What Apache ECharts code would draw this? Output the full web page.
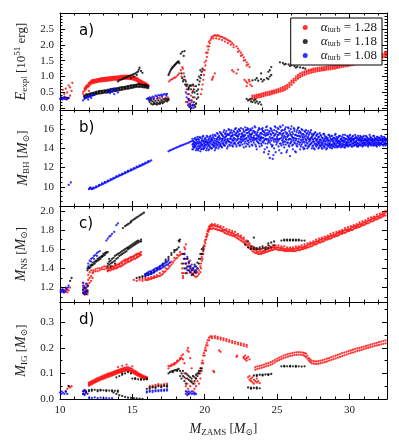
<!DOCTYPE html>
<html>
<head>
<meta charset="utf-8">
<script src="https://cdn.jsdelivr.net/npm/echarts@6.0.0/dist/echarts.min.js"></script>
<style>
html, body { margin: 0; padding: 0; background: #fff; }
#chart { width: 399px; height: 444px; }
</style>
</head>
<body>
<div id="chart"></div>
<script>
// rows are [M_ZAMS, value, value, ...]
var alphaTurb = ['1.28', '1.18', '1.08'];
var xMajor = [10, 15, 20, 25, 30];
var xMinor = [11, 12, 13, 14, 16, 17, 18, 19, 21, 22, 23, 24, 26, 27, 28, 29, 31, 32];
var yMajorA = [0, 0.5, 1, 1.5, 2, 2.5];
var yMinorA = [0.1, 0.2, 0.3, 0.4, 0.6, 0.7, 0.8, 0.9, 1.1, 1.2, 1.3, 1.4, 1.6, 1.7, 1.8, 1.9, 2.1, 2.2, 2.3, 2.4, 2.6, 2.7, 2.8, 2.9];
var yMajorB = [10, 12, 14, 16];
var yMinorB = [8.5, 9, 9.5, 10.5, 11, 11.5, 12.5, 13, 13.5, 14.5, 15, 15.5, 16.5, 17, 17.5];
var yMajorC = [1.2, 1.4, 1.6, 1.8, 2.0];
var yMinorC = [1.1, 1.3, 1.5, 1.7, 1.9];
var yMajorD = [0, 0.1, 0.2, 0.3];
var yMinorD = [0.05, 0.15, 0.25, 0.35];

// a) E_expl
var aRed = [
  [10.1,0.30],[10.2,0.32,0.58],[10.3,0.31,0.45],[10.4,0.30,0.62],[10.5,0.34,0.5],[10.6,0.32,0.72],[10.7,0.66,0.4],[10.8,0.55],[10.85,0.8],
  [11.6,0.45,0.52],[11.65,0.38],[11.7,0.55,0.6,0.64],[11.8,0.6,0.65,0.7,0.45],[11.9,0.66,0.7,0.75],[12.0,0.7,0.75,0.8,0.55],[12.1,0.75,0.8,0.85],
  [12.2,0.78,0.83,0.88],[12.3,0.8,0.85,0.9],[12.4,0.81,0.86,0.9],[12.5,0.82,0.86,0.91],[12.6,0.83,0.88,0.92],[12.7,0.84,0.89,0.93],
  [12.8,0.85,0.9,0.94],[12.9,0.85,0.9,0.95],[13.0,0.86,0.91,0.95],[13.1,0.86,0.91,0.96],[13.2,0.87,0.92,0.97],[13.3,0.87,0.92,0.97],
  [13.4,0.88,0.93,0.98],[13.5,0.88,0.93,0.98],[13.6,0.89,0.94,0.99],[13.7,0.9,0.95,0.99],[13.8,0.9,0.95,1.0],[13.9,0.9,0.95,1.0],
  [14.0,0.91,0.96,1.01],[14.1,0.91,0.96,1.01],[14.2,0.92,0.97,1.02],[14.3,0.92,0.97,1.02],[14.4,0.93,0.98,1.02],[14.5,0.93,0.98,1.03],
  [14.6,0.93,0.98,1.03],[14.7,0.93,0.98,1.03],[14.8,0.92,0.97,1.02],[14.9,0.92,0.97,1.02],[15.0,0.91,0.96,1.01],[15.1,0.9,0.95,1.0],
  [15.2,0.88,0.93,0.98],[15.3,0.86,0.91,0.96],[15.4,0.83,0.88,0.93],[15.5,0.8,0.85,0.9],[15.6,0.77,0.82,0.87],[15.7,0.75,0.8,0.85],
  [15.8,0.73,0.78,0.82],[15.9,0.72,0.76,0.8],[16.0,0.7,0.74,0.77],[16.1,0.68,0.71,0.74],
  [16.3,0.3],[16.5,0.28],[16.7,0.3],[16.9,0.32],[17.1,0.3],[17.3,0.33],[17.45,0.35],
  [17.55,0.85],[17.65,0.9],[17.75,0.92],[17.85,0.95],[17.95,0.97],[18.05,1.0],[18.15,1.05],[18.25,1.1],[18.35,1.2],[18.4,1.0],[18.45,1.3],[18.5,1.25],[18.55,1.1],
  [18.65,0.9],[18.7,0.75,0.2],[18.75,0.6],[18.8,0.45],[18.85,0.3],[18.9,0.15,0.6],[18.95,0.05],[19.0,0.25],[19.05,0.4],[19.1,0.2],[19.15,0.1],[19.2,0.55],[19.25,0.7],[19.3,0.35],[19.4,0.15],
  [19.75,0.45],[19.8,0.6],[19.85,0.75],[19.9,0.9,1.2],[19.95,1.05],[20.0,1.2,1.45],[20.05,1.35],[20.1,1.5,1.75],[20.15,1.62],[20.2,1.75,1.95],[20.25,1.85],[20.3,1.95,2.1],[20.35,2.05],[20.4,2.15],[20.45,2.2],
  [20.5,0.9],[20.55,0.95],[20.6,1.0],[20.7,1.1],
  [20.5,2.25],[20.6,2.28,2.2],[20.7,2.3],[20.8,2.28,2.2],[20.9,2.3],[21.0,2.27,2.18],[21.1,2.25],[21.2,2.25,2.15],[21.3,2.22],[21.4,2.2,2.1],[21.5,2.18],[21.6,2.15,2.05],[21.7,2.12],[21.8,2.1,2.0],[21.9,2.05],[22.0,2.0,1.92],
  [22.2,1.95],[22.3,1.88,1.78],[22.4,1.82],[22.5,1.75,1.65],[22.6,1.68],[22.7,1.6,1.5],[22.8,1.52],[22.9,1.45,1.35],[23.0,1.38],[23.1,1.3],
  [21.9,1.2],[22.0,1.15],[22.2,1.1],[22.3,1.22],
  [22.75,0.9],[22.85,0.85],[22.9,0.7],[22.95,0.8],[23.05,0.9],[23.1,0.85],[23.15,0.75],[23.25,0.7],
  [23.3,0.3,0.35,0.4],[23.45,0.32,0.37,0.41],[23.6,0.33,0.38,0.43],[23.75,0.35,0.4,0.44],[23.9,0.36,0.41,0.46],[24.05,0.38,0.43,0.48],
  [24.2,0.4,0.45,0.5],[24.35,0.42,0.46,0.51],[24.5,0.43,0.48,0.53],[24.65,0.45,0.5,0.55],[24.8,0.47,0.52,0.57],[24.95,0.49,0.54,0.59],
  [25.1,0.51,0.56,0.61],[25.25,0.53,0.58,0.64],[25.4,0.55,0.61,0.67],[25.55,0.58,0.64,0.7],[25.7,0.62,0.68,0.74],[25.85,0.67,0.74,0.8],
  [26.0,0.74,0.81,0.87],[26.15,0.81,0.87,0.93],[26.3,0.88,0.94,1.0],[26.45,0.93,0.99,1.05],[26.6,0.98,1.04,1.1],[26.75,1.02,1.08,1.13],
  [26.9,1.05,1.11,1.16],[27.05,1.08,1.14,1.19],[27.2,1.1,1.16,1.21],[27.35,1.12,1.18,1.23],[27.5,1.14,1.2,1.25],[27.65,1.15,1.21,1.26],
  [27.8,1.17,1.22,1.27],[27.95,1.18,1.23,1.28],[28.1,1.19,1.24,1.29],[28.25,1.2,1.25,1.3],[28.4,1.21,1.26,1.31],[28.55,1.22,1.27,1.32],
  [28.7,1.23,1.28,1.33],[28.85,1.24,1.29,1.34],[29.0,1.25,1.3,1.35],[29.15,1.27,1.32,1.37],[29.3,1.28,1.33,1.38],[29.45,1.3,1.35,1.4],
  [29.6,1.31,1.36,1.41],[29.75,1.32,1.37,1.42],[29.9,1.33,1.38,1.44],[30.05,1.35,1.4,1.45],[30.2,1.36,1.41,1.47],[30.35,1.38,1.43,1.48],
  [30.5,1.39,1.44,1.5],[30.65,1.41,1.46,1.51],[30.8,1.42,1.47,1.53],[30.95,1.44,1.49,1.54],[31.1,1.45,1.5,1.56],[31.25,1.47,1.52,1.57],
  [31.4,1.48,1.53,1.59],[31.55,1.5,1.55,1.6],[31.7,1.51,1.56,1.62],[31.85,1.53,1.58,1.64],[32.0,1.55,1.6,1.66],[32.15,1.57,1.63,1.68],
  [32.3,1.6,1.65,1.71],[32.45,1.63,1.69,1.75],[32.55,1.66,1.72,1.78]
];
var aBlack = [
  [10.1,0.33],[10.3,0.36],[10.5,0.32],
  [11.7,0.33,0.37,0.4],[11.8,0.35,0.42],[11.9,0.37,0.4,0.44],[12.0,0.38,0.45],[12.1,0.4,0.43,0.47],[12.2,0.41,0.48],[12.3,0.42,0.46,0.49],
  [12.4,0.44,0.5],[12.5,0.45,0.48,0.52],[12.6,0.46,0.53],[12.7,0.47,0.5,0.54],[12.8,0.47,0.55],[12.9,0.48,0.52,0.55],[13.0,0.49,0.56],
  [13.1,0.5,0.53,0.57],[13.2,0.5,0.57],[13.3,0.51,0.55,0.58],[13.4,0.52,0.59],[13.5,0.52,0.56,0.6],[13.6,0.53,0.61],[13.7,0.54,0.58,0.62],
  [13.8,0.55,0.62],[13.9,0.56,0.6,0.63],[14.0,0.57,0.64],[14.1,0.57,0.61,0.65],[14.2,0.58,0.66],[14.3,0.59,0.63,0.67],[14.4,0.6,0.67],
  [14.5,0.61,0.65,0.68],[14.6,0.62,0.69],[14.7,0.62,0.66,0.7],[14.8,0.63,0.71],[14.9,0.64,0.68,0.72],[15.0,0.65,0.72],[15.1,0.66,0.7,0.73],
  [15.2,0.67,0.74],[15.3,0.68,0.72,0.75],[15.4,0.68,0.76],[15.5,0.68,0.72,0.76],[15.6,0.68,0.75],[15.7,0.67,0.71,0.74],[15.8,0.66,0.74],
  [15.9,0.66,0.7,0.73],[16.0,0.65,0.72],[16.1,0.64,0.7],
  [14.0,0.85],[14.1,0.88],[14.2,0.9],[14.3,0.92],[14.4,0.94],[14.5,0.96],[14.6,0.98],[14.7,1.0],[14.8,1.02],[14.9,0.95,1.04],[15.0,1.06],
  [15.1,1.0,1.08],[15.2,1.1],[15.3,1.05,1.13],[15.4,1.16],[15.45,1.22],[15.5,1.28],[15.6,1.18],[15.7,1.12],
  [16.1,0.3],[16.2,0.2,0.28],[16.3,0.15,0.25],[16.4,0.12,0.22],[16.5,0.14,0.18],[16.6,0.14,0.24],[16.7,0.18,0.12],[16.8,0.15,0.25],
  [16.9,0.2,0.14],[17.0,0.18,0.26],[17.1,0.22,0.16],[17.2,0.2,0.28],[17.3,0.24,0.3],[17.4,0.22,0.28],[17.5,0.3,0.26],
  [17.5,1.05],[17.55,1.1],[17.6,1.15],[17.65,1.2],[17.7,1.24],[17.75,1.27],[17.8,1.3],[17.85,1.32],[17.9,1.35],[17.95,1.37],[18.0,1.4],
  [18.05,1.42],[18.1,1.45],[18.15,1.46],[18.2,1.48],[18.25,1.42],
  [18.35,1.72],[18.45,1.78],[18.55,1.65],[18.6,1.8],
  [18.4,1.1],[18.45,0.95],[18.5,0.85],[18.55,0.9],[18.6,1.0],[18.65,0.75],[18.7,0.85],[18.75,0.7],[18.8,0.75],[18.85,0.6],[18.9,0.65,0.25],
  [18.95,0.7],[19.0,0.72,0.1],[19.05,0.6],[19.1,0.72,0.0],[19.15,0.5],[19.2,0.35,0.75],[19.25,0.2,0.6],[19.3,0.1,0.5],[19.35,0.05],
  [19.4,0.15,0.7],[19.45,0.3,0.55],[19.5,0.45,0.9],[19.55,0.6,0.35],[19.6,0.75,1.0],[19.65,0.85],[19.7,0.95,1.2],[19.75,1.05],[19.8,1.15],[19.85,1.25],
  [22.9,0.3],[23.0,0.25],[23.1,0.28],[23.2,0.22,0.3],[23.3,0.2],[23.4,0.25],[23.5,0.18,0.28],[23.6,0.22],[23.7,0.15],[23.8,0.2],[23.9,0.12],
  [23.3,0.88],[23.5,0.9],[23.6,0.95],[23.7,0.87],[23.9,0.92,1.1],[24.0,0.85],[24.1,0.9],[24.3,0.95],[24.4,0.92,1.15],[24.5,1.0,1.2],[24.6,1.05,1.3],
  [25.2,1.45],[25.4,1.43],[25.5,1.38],[25.6,1.4],[25.8,1.38],[25.9,1.33],[26.0,1.36],[26.2,1.33],[26.3,1.28],[26.4,1.31],[26.6,1.29],[26.8,1.27],[26.95,1.25]
];
var aBlue = [
  [10.0,0.3],[10.1,0.35],[10.15,0.28],[10.2,0.32],[10.3,0.3],[10.4,0.34],[10.45,0.28],[10.5,0.31],[10.6,0.33],
  [11.6,0.25],[11.7,0.3],[11.75,0.38],[11.8,0.33],[11.9,0.35],[11.95,0.28],[12.0,0.37],[12.1,0.38],[12.15,0.33],[12.2,0.4],[12.3,0.42],[12.4,0.43],
  [13.3,0.5],[13.4,0.55],[13.45,0.48],[13.5,0.6],[13.6,0.52],[13.7,0.58],[13.75,0.45],[13.8,0.62],[13.9,0.55],[14.0,0.5],
  [16.0,0.3],[16.1,0.32],[16.15,0.25],[16.2,0.35],[16.3,0.33],[16.4,0.37],[16.45,0.3],[16.5,0.35],[16.6,0.4],[16.7,0.38],[16.75,0.33],
  [16.8,0.42],[16.9,0.4],[17.0,0.43],[17.05,0.37],[17.1,0.42],[17.2,0.45],[17.3,0.44],[17.35,0.4],[17.4,0.46],
  [18.7,0.5],[18.75,0.35],[18.8,0.2],[18.85,0.1],[18.9,0.3,0.45],[18.95,0.05],[19.0,0.15],[19.05,0.02],[19.1,0.25],[19.15,0.08],[19.2,0.12],[19.25,0.02]
];

// b) M_BH
var bBlue = [
  [10.6,10.2],[10.75,10.45],
  [12.0,9.75],[12.05,9.85],[12.1,9.95],[12.15,9.8],[12.2,9.75],[12.3,9.8,9.9],[12.4,9.88],[12.5,9.95,10.05],[12.6,10.02],[12.7,10.1,10.2],
  [12.8,10.18],[12.9,10.25,10.35],[13.0,10.32],[13.1,10.4,10.5],[13.2,10.47],[13.3,10.55,10.64],[13.4,10.62],[13.5,10.7,10.8],[13.6,10.77],
  [13.7,10.85,10.94],[13.8,10.92],[13.9,11.0,11.1],[14.0,11.07],[14.1,11.14,11.24],[14.2,11.21],[14.3,11.28,11.38],[14.4,11.35],
  [14.5,11.42,11.52],[14.6,11.5],[14.7,11.57,11.67],[14.8,11.64],[14.9,11.71,11.81],[15.0,11.78],[15.1,11.85,11.95],[15.2,11.92],
  [15.3,12.0,12.1],[15.4,12.07],[15.5,12.14,12.24],[15.6,12.2],[15.7,12.27,12.37],[15.8,12.35],[15.9,12.42,12.52],[16.0,12.5],
  [16.1,12.57,12.67],[16.2,12.65],[16.3,12.75],
  [17.5,13.7],[17.6,13.78],[17.7,13.85],[17.8,13.92],[17.9,13.98],[18.0,14.05],[18.1,14.12],[18.2,14.18],[18.3,14.25],[18.4,14.3],
  [18.5,14.36],[18.6,14.42],[18.7,14.48],[18.8,14.55],[18.9,14.6],[19.0,14.68],[19.1,14.75],
  [19.2,14.2,14.8,13.9,14.5],[19.3,14.6,14.1,15.0,14.3],[19.4,14.4,13.8,14.9,14.6],[19.5,14.7,14.2,15.2,13.9],[19.6,14.3,14.9,14.0,14.6],
  [19.7,14.5,15.1,13.7,14.2],[19.8,14.8,14.4,14.0,15.0],[19.9,14.2,14.7,15.3,13.9],[20.0,14.6,14.3,15.0,14.1],[20.1,14.4,14.9,13.8,14.7],
  [20.2,14.7,14.2,15.2,14.5],[20.3,14.3,15.0,14.6,13.9],[20.4,14.5,14.1,15.3,14.8],[20.5,14.9,14.4,14.0,15.1],[20.6,14.6,15.2,14.2,14.4],
  [20.7,14.3,14.8,15.4,13.8],[20.8,14.7,14.5,15.0,14.1],[20.9,15.1,14.4,14.7,15.5],[21.0,14.6,15.3,14.2,14.9],[21.1,15.0,14.5,15.6,14.3],
  [21.2,14.8,15.4,14.1,15.0],[21.3,15.2,14.6,15.7,14.4],[21.4,14.9,15.5,14.3,15.1],[21.5,15.3,14.7,15.8,14.5],[21.6,15.0,14.2,15.5,14.8],
  [21.7,14.7,15.4,15.9,14.4],[21.8,15.2,14.6,15.0,15.7],[21.9,14.9,15.3,14.3,15.6],[22.0,15.1,14.5,15.8,14.8],[22.1,14.6,15.4,15.0,16.0],
  [22.2,15.3,14.8,14.2,15.6],[22.3,15.0,15.7,14.5,15.2],[22.4,14.7,15.5,15.9,14.3],[22.5,15.2,14.9,16.1,14.6],[22.6,15.6,15.0,14.4,15.3],
  [22.7,14.9,15.8,15.2,14.1],[22.8,15.4,14.7,16.2,15.0],[22.9,15.1,15.6,14.5,15.9],[23.0,14.8,15.3,16.0,14.4],[23.1,15.5,15.0,14.2,15.8],
  [23.2,15.2,15.9,14.7,15.4],[23.3,14.9,15.6,16.1,14.3],[23.4,15.3,14.6,15.8,15.1],[23.5,15.7,15.0,14.4,16.2],[23.6,15.1,15.5,14.8,13.9],
  [23.7,14.6,15.9,15.3,15.0],[23.8,15.4,14.9,16.0,14.2],[23.9,15.0,15.6,14.5,15.2],[24.0,15.8,15.1,14.7,16.1],[24.1,14.8,15.4,13.6,15.7],
  [24.2,15.3,14.5,15.9,15.0],[24.3,15.6,14.9,14.1,16.3],[24.4,15.0,15.5,13.4,14.7],[24.5,14.6,15.8,15.2,13.0],[24.6,15.4,14.8,16.0,14.4],
  [24.7,15.1,15.6,14.3,12.9],[24.8,14.7,15.3,15.9,14.0],[24.9,15.5,14.9,16.2,13.6],[25.0,15.2,14.6,15.7,15.0],[25.1,14.8,15.4,16.0,14.2],
  [25.2,15.6,15.0,14.5,16.3],[25.3,15.1,14.3,15.8,13.5],[25.4,14.9,15.5,16.4,14.6],[25.5,15.3,14.7,15.9,14.1],[25.6,15.0,15.7,14.4,16.2],
  [25.7,14.6,15.2,13.8,15.6],[25.8,15.4,14.9,16.1,14.3],[25.9,15.0,15.6,14.5,13.2],[26.0,14.7,15.3,16.3,14.9],[26.1,15.5,14.4,15.1,13.9],
  [26.2,15.1,15.8,14.6,16.0],[26.3,14.8,15.4,13.6,15.0],[26.4,15.3,14.5,15.9,14.2],[26.5,15.0,15.6,14.7,16.2],[26.6,14.6,15.2,13.9,15.7],
  [26.7,15.4,14.8,16.0,14.4],[26.8,14.9,15.5,14.1,15.1],[26.9,15.2,14.6,15.8,14.0],[27.0,14.8,15.3,14.3,15.9],[27.1,15.1,14.5,15.6,14.0],
  [27.2,14.7,15.4,14.2,15.0],[27.3,15.0,14.4,15.7,14.8],[27.4,14.6,15.2,14.0,15.5],[27.5,14.9,14.3,15.4,14.7],[27.6,14.5,15.1,13.9,15.6],
  [27.7,14.8,14.2,15.3,14.5],[27.8,14.4,15.0,14.7,15.5],[27.9,14.7,14.1,15.2,14.5],[28.0,14.3,14.9,14.6,15.4],[28.1,14.6,14.0,15.1,14.4],
  [28.2,14.9,14.3,15.5,14.7],[28.3,14.5,15.0,14.1,15.3],[28.4,14.8,14.4,15.2,13.9],[28.5,14.6,15.1,14.2,14.9],[28.6,14.3,14.8,15.4,14.5],
  [28.7,14.7,14.1,15.0,14.4],[28.8,14.4,14.9,15.3,14.0],[28.9,14.8,14.5,15.1,14.2],[29.0,14.5,15.0,14.1,15.4],[29.1,14.9,14.3,14.7,15.2],
  [29.2,14.6,15.1,14.2,14.8],[29.3,14.3,14.8,15.3,14.5],[29.4,14.7,14.4,15.0,14.1],[29.5,14.5,15.2,14.8,14.2],[29.6,14.8,14.3,15.1,14.6],
  [29.7,14.4,14.9,15.4,14.1],[29.8,14.7,14.5,15.0,14.3],[29.9,14.9,14.2,15.2,14.6],[30.0,14.6,15.0,14.3,15.3],[30.1,14.8,14.4,15.1,14.7],
  [30.2,14.5,15.2,14.2,14.9],[30.3,14.9,14.6,15.0,14.3],[30.4,14.6,15.1,14.4,15.4],[30.5,14.8,14.3,15.0,14.6],[30.6,14.5,14.9,15.3,14.2],
  [30.7,14.9,14.6,15.1,14.4],[30.8,14.7,15.2,14.3,14.9],[30.9,14.5,14.8,15.0,14.2],[31.0,14.8,14.4,15.3,14.6],[31.1,14.6,15.0,14.3,14.9],
  [31.2,14.9,14.5,15.2,14.7],[31.3,14.5,14.8,15.0,14.2],[31.4,14.8,14.4,15.4,14.6],[31.5,14.6,15.1,14.3,14.9],[31.6,14.9,14.5,15.0,14.7],
  [31.7,14.5,14.8,15.3,14.3],[31.8,14.7,15.0,14.4,14.9],[31.9,14.9,14.6,15.2,14.2],[32.0,14.6,15.0,14.4,14.8],[32.1,14.8,14.5,15.1,14.3],
  [32.2,14.5,14.9,15.3,14.6],[32.3,14.7,14.4,15.0,14.9],[32.4,14.9,14.6,15.2,14.4],[32.5,14.6,14.8,14.3,15.0]
];
// second pass of the BH cloud, in between the rows above
var bBlueMid = [
  [19.15,14.4,13.9,15.0],[19.25,14.7,14.1,14.4],[19.35,14.2,15.1,14.6],[19.45,14.9,14.0,14.5],[19.55,14.5,15.0,13.8],[19.65,14.1,14.7,15.2],
  [19.75,14.6,13.9,14.3],[19.85,14.4,15.2,14.8],[19.95,14.8,14.0,14.5],[20.05,14.3,15.1,14.7],[20.15,14.6,14.0,15.3],[20.25,14.9,14.4,13.8],
  [20.35,14.2,15.2,14.7],[20.45,14.7,14.0,15.0],[20.55,14.4,15.4,14.8],[20.65,15.0,14.2,14.6],[20.75,14.5,15.3,14.0],[20.85,14.9,14.3,15.6],
  [20.95,14.6,15.2,14.0],[21.05,15.1,14.4,15.7],[21.15,14.7,15.5,14.2],[21.25,15.3,14.5,15.0],[21.35,14.8,15.9,14.3],[21.45,15.2,14.6,15.6],
  [21.55,14.9,15.4,14.0],[21.65,15.4,14.7,16.0],[21.75,15.0,15.6,14.3],[21.85,14.6,15.3,15.9],[21.95,15.4,14.8,14.2],[22.05,15.0,15.7,14.5],
  [22.15,15.5,14.4,16.1],[22.25,14.9,15.3,15.8],[22.35,15.4,14.6,16.0],[22.45,15.0,15.8,14.3],[22.55,15.5,14.7,15.2],[22.65,14.8,16.0,15.4],
  [22.75,15.3,14.5,15.7],[22.85,15.0,15.9,14.2],[22.95,15.6,14.8,16.1],[23.05,15.2,15.7,14.6],[23.15,14.9,16.0,15.4],[23.25,15.5,14.4,15.1],
  [23.35,15.1,15.8,14.8],[23.45,15.6,14.9,16.3],[23.55,15.0,15.4,14.2],[23.65,15.7,14.7,15.3],[23.75,15.2,16.1,14.5],[23.85,14.8,15.6,15.1],
  [23.95,15.5,14.3,16.0],[24.05,15.1,15.8,14.6],[24.15,15.6,14.9,13.9],[24.25,15.0,16.2,15.4],[24.35,15.4,14.5,15.9],[24.45,14.8,15.7,13.7],
  [24.55,15.5,15.0,16.1],[24.65,15.1,14.2,15.8],[24.75,15.6,14.9,13.3],[24.85,15.0,15.4,16.3],[24.95,14.7,15.8,14.4],[25.05,15.4,14.9,16.1],
  [25.15,15.0,15.6,13.8],[25.25,15.5,14.5,16.2],[25.35,14.8,15.3,15.9],[25.45,15.6,14.4,15.1],[25.55,15.2,16.0,14.7],[25.65,14.9,15.5,13.6],
  [25.75,15.3,14.6,16.2],[25.85,15.0,15.8,14.2],[25.95,14.6,15.4,16.0],[26.05,15.2,14.3,15.7],[26.15,14.8,16.1,15.0],[26.25,15.4,14.5,13.7],
  [26.35,15.0,15.7,14.3],[26.45,14.7,15.3,16.1],[26.55,15.3,14.4,15.8],[26.65,14.9,15.6,14.2],[26.75,15.2,14.6,15.9],[26.85,14.7,15.4,13.9],
  [26.95,15.0,14.3,15.7],[27.05,14.6,15.5,14.9],[27.15,15.2,14.2,15.8],[27.25,14.9,15.6,14.4],[27.35,14.5,15.1,15.9],[27.45,15.0,14.2,15.3],
  [27.55,14.7,15.5,14.0],[27.65,14.4,15.0,15.7],[27.75,14.9,14.3,15.4],[27.85,14.6,15.2,14.0],[27.95,14.3,14.9,15.6],[28.05,14.8,14.2,15.3],
  [28.15,14.5,15.1,14.0],[28.25,14.2,14.8,15.5],[28.35,14.7,14.4,15.1],[28.45,14.4,15.0,14.0],[28.55,14.8,14.3,15.4],[28.65,14.5,15.2,14.1],
  [28.75,14.3,14.9,15.3],[28.85,14.7,14.2,15.0],[28.95,14.4,15.1,14.6],[29.05,14.8,14.3,15.5],[29.15,14.5,15.0,14.1],[29.25,14.2,14.7,15.2],
  [29.35,14.6,15.3,14.4],[29.45,14.9,14.2,15.0],[29.55,14.4,14.8,15.4],[29.65,14.7,14.1,15.1],[29.75,14.3,15.0,14.6],[29.85,14.6,15.3,14.4],
  [29.95,14.8,14.3,15.1],[30.05,14.4,14.9,15.4],[30.15,14.7,14.2,15.0],[30.25,14.9,14.5,15.3],[30.35,14.3,15.0,14.7],[30.45,14.7,14.4,15.2],
  [30.55,14.5,15.1,14.2],[30.65,14.8,14.3,15.0],[30.75,14.4,14.9,15.3],[30.85,14.8,14.5,15.1],[30.95,14.6,15.2,14.3],[31.05,14.9,14.5,15.0],
  [31.15,14.4,14.8,15.3],[31.25,14.7,14.3,15.1],[31.35,14.6,15.0,14.4],[31.45,14.9,14.5,15.2],[31.55,14.4,14.8,15.0],[31.65,14.7,14.3,15.3],
  [31.75,14.9,14.6,15.1],[31.85,14.5,15.0,14.3],[31.95,14.8,14.4,15.2],[32.05,14.6,15.1,14.4],[32.15,14.9,14.5,15.0],[32.25,14.4,14.8,15.2],
  [32.35,14.7,15.0,14.3],[32.45,14.5,14.9,15.1],[32.55,14.8,14.4,15.0]
];

// c) M_NS
var cRed = [
  [10.2,1.16,1.18],[10.3,1.17,1.15],[10.4,1.16,1.19],[10.5,1.18,1.15],[10.6,1.17],[10.7,1.2],
  [11.6,1.15,1.2,1.25],[11.7,1.13,1.18,1.22],[11.8,1.14,1.2,1.17],[11.9,1.13,1.16,1.24],
  [11.95,1.28,1.33,1.22],[12.05,1.3,1.36,1.25],[12.15,1.32,1.38,1.27],[12.25,1.35,1.3],
  [12.3,1.36,1.38],[12.45,1.37,1.39],[12.6,1.37,1.4],[12.75,1.38,1.4],[12.9,1.39,1.41],[13.05,1.39,1.42],[13.2,1.4,1.42],
  [13.3,1.37,1.38,1.4],[13.4,1.38,1.4],[13.5,1.38,1.4,1.41],[13.6,1.39,1.42],[13.7,1.39,1.41,1.42],[13.8,1.4,1.43],[13.9,1.4,1.42,1.44],
  [14.0,1.41,1.44],[14.1,1.42,1.44,1.45],[14.2,1.42,1.46],[14.3,1.43,1.45,1.47],[14.4,1.44,1.48],[14.5,1.45,1.47,1.49],[14.6,1.46,1.49],
  [14.7,1.47,1.49,1.5],[14.8,1.47,1.51],[14.9,1.48,1.5,1.52],[15.0,1.49,1.52],[15.1,1.5,1.52,1.53],[15.2,1.5,1.54],[15.3,1.51,1.53,1.55],
  [15.4,1.52,1.55],[15.5,1.53,1.55,1.56],[15.6,1.54,1.57],
  [15.1,1.28],[15.3,1.27],[15.5,1.28,1.3],[15.7,1.27,1.29],[15.9,1.28,1.3],[16.0,1.28],[16.1,1.28,1.3],[16.2,1.29],[16.3,1.29,1.31],[16.4,1.3],
  [16.5,1.3,1.32],[16.6,1.31],[16.7,1.31,1.33],[16.8,1.32],[16.9,1.32,1.35],[17.0,1.33],[17.1,1.34,1.37],[17.2,1.36],[17.3,1.37,1.4],
  [17.4,1.39],[17.5,1.4,1.43],[17.6,1.42],[17.7,1.44,1.47],[17.8,1.46],[17.9,1.48,1.51],[18.0,1.5],[18.1,1.51,1.54],[18.2,1.53],[18.3,1.54,1.57],
  [18.4,1.55,1.45],[18.45,1.4,1.35],[18.5,1.32,1.3],[18.55,1.35,1.5],[18.6,1.55,1.62],[18.65,1.45,1.6],[18.7,1.65,1.5],[18.75,1.4],
  [18.8,1.5,1.35],[18.9,1.45,1.38],[19.0,1.42,1.48],[19.1,1.35,1.4],[19.2,1.33,1.38],[19.3,1.32,1.36],[19.4,1.31,1.35],[19.5,1.32,1.36],
  [19.6,1.34,1.38],[19.7,1.36,1.42],
  [19.75,1.4,1.45],[19.8,1.48,1.52],[19.85,1.5,1.55],[19.9,1.55,1.6],[19.95,1.6,1.64],[20.0,1.63,1.68],[20.05,1.66,1.7],[20.1,1.7,1.73],
  [20.15,1.73,1.76],[20.2,1.75,1.79],[20.25,1.78,1.81],[20.3,1.8,1.83],[20.35,1.81,1.84],[20.4,1.82,1.85],
  [20.5,1.81,1.84,1.86],[20.6,1.82,1.85],[20.7,1.81,1.84,1.86],[20.8,1.81,1.84],[20.9,1.8,1.83,1.85],[21.0,1.8,1.83],[21.1,1.79,1.82,1.84],
  [21.2,1.79,1.81],[21.3,1.78,1.8,1.83],[21.4,1.77,1.8],[21.5,1.76,1.79,1.81],[21.6,1.76,1.78],[21.7,1.75,1.78,1.8],[21.8,1.75,1.77],
  [21.9,1.74,1.77,1.79],[22.0,1.74,1.76],[22.1,1.73,1.75,1.78],[22.2,1.72,1.75],[22.3,1.71,1.74,1.76],[22.4,1.7,1.73],[22.5,1.69,1.72,1.74],
  [22.6,1.68,1.71],[22.7,1.67,1.7,1.72],[22.8,1.65,1.68],[22.9,1.64,1.67,1.69],[23.0,1.62,1.65],[23.1,1.61,1.64,1.66],[23.2,1.6,1.62],
  [23.3,1.58,1.61,1.63],[23.4,1.57,1.6],[23.5,1.56,1.59,1.61],[23.6,1.56,1.58],[23.7,1.55,1.57,1.6],[23.8,1.55,1.58],[23.9,1.55,1.57,1.6],
  [24.0,1.56,1.58],[24.1,1.56,1.58,1.61],[24.2,1.57,1.59],[24.3,1.57,1.6,1.62],[24.4,1.58,1.6],[24.5,1.58,1.61,1.63],[24.6,1.59,1.61],
  [24.7,1.59,1.62,1.64],[24.8,1.6,1.62],[24.9,1.6,1.62,1.64],[25.0,1.6,1.62],[25.1,1.59,1.62,1.64],[25.2,1.59,1.61],[25.3,1.59,1.61,1.63],
  [25.4,1.59,1.61],[25.5,1.58,1.6,1.63],[25.6,1.58,1.6],[25.7,1.58,1.6,1.62],[25.8,1.58,1.6],[25.9,1.58,1.6,1.62],[26.0,1.58,1.6],
  [26.1,1.58,1.6,1.62],[26.2,1.58,1.6],[26.3,1.58,1.61,1.63],[26.4,1.59,1.61],[26.5,1.59,1.61,1.63],[26.6,1.59,1.62],[26.7,1.6,1.62,1.64],
  [26.8,1.6,1.62],[26.9,1.61,1.63,1.65],[27.0,1.61,1.63],[27.1,1.62,1.64,1.66],[27.2,1.62,1.65],[27.3,1.63,1.65,1.67],[27.4,1.63,1.66],
  [27.5,1.64,1.66,1.68],[27.6,1.65,1.67],[27.7,1.65,1.68,1.7],[27.8,1.66,1.68],[27.9,1.67,1.69,1.71],[28.0,1.67,1.7],[28.1,1.68,1.7,1.72],
  [28.2,1.68,1.71],[28.3,1.69,1.71,1.73],[28.4,1.7,1.72],[28.5,1.7,1.72,1.74],[28.6,1.71,1.73],[28.7,1.71,1.74,1.76],[28.8,1.72,1.74],
  [28.9,1.73,1.75,1.77],[29.0,1.73,1.75],[29.1,1.74,1.76,1.78],[29.2,1.74,1.77],[29.3,1.75,1.77,1.79],[29.4,1.76,1.78],[29.5,1.76,1.78,1.8],
  [29.6,1.77,1.79],[29.7,1.77,1.8,1.82],[29.8,1.78,1.8],[29.9,1.79,1.81,1.83],[30.0,1.79,1.81],[30.1,1.8,1.82,1.84],[30.2,1.8,1.83],
  [30.3,1.81,1.83,1.85],[30.4,1.82,1.84],[30.5,1.82,1.84,1.86],[30.6,1.83,1.85],[30.7,1.83,1.86,1.88],[30.8,1.84,1.86],[30.9,1.85,1.87,1.89],
  [31.0,1.85,1.88],[31.1,1.86,1.88,1.9],[31.2,1.87,1.89],[31.3,1.87,1.9,1.92],[31.4,1.88,1.9],[31.5,1.89,1.91,1.93],[31.6,1.89,1.92],
  [31.7,1.9,1.92,1.94],[31.8,1.91,1.93],[31.9,1.91,1.94,1.96],[32.0,1.92,1.94],[32.1,1.93,1.95,1.97],[32.2,1.93,1.96],[32.3,1.94,1.96,1.98],
  [32.4,1.95,1.97],[32.5,1.95,1.98,2.0]
];
var cBlack = [
  [10.4,1.2],[10.7,1.27],[10.8,1.3],
  [11.6,1.14,1.18],[11.7,1.15,1.2],[11.8,1.13,1.16],[11.9,1.17,1.22],
  [11.9,1.38,1.4],[12.0,1.4,1.41],[12.1,1.41,1.43],[12.2,1.43,1.44],[12.3,1.44,1.46],[12.4,1.45,1.47],[12.5,1.47,1.48],[12.6,1.48,1.5],
  [12.7,1.49,1.51],[12.8,1.5,1.52],[12.9,1.52,1.53],[13.0,1.53,1.55],[13.1,1.54,1.56],[13.2,1.56,1.57],[13.3,1.57],
  [13.3,1.42,1.45],[13.4,1.44,1.47,1.5],[13.5,1.45,1.48,1.42],[13.6,1.46,1.5],[13.7,1.47,1.51],[13.8,1.48,1.53,1.45],[13.9,1.5,1.54],
  [14.0,1.51,1.55],[14.1,1.53,1.56],[14.2,1.54,1.57],[14.3,1.55,1.58],[14.4,1.56,1.59],[14.5,1.57,1.6],[14.6,1.58,1.61],[14.7,1.6,1.62],
  [14.8,1.61,1.63],[14.9,1.62,1.64],[15.0,1.63,1.65],[15.1,1.64,1.66],[15.2,1.65,1.67],[15.3,1.66,1.68],[15.4,1.67,1.69],[15.5,1.68],[15.6,1.68,1.7],
  [14.35,1.82],[14.5,1.84],[14.6,1.85],[14.7,1.86],[14.8,1.87],[14.9,1.88,1.89],[15.0,1.9],[15.1,1.91],[15.2,1.92],[15.3,1.93],
  [15.4,1.94],[15.5,1.95],[15.6,1.96],[15.7,1.97],[15.8,1.98],
  [15.3,1.3],[15.5,1.31],[15.7,1.31,1.32],[15.9,1.32,1.34],[16.1,1.33,1.35],[16.3,1.34,1.36],[16.5,1.36,1.38],[16.7,1.38,1.4],
  [16.9,1.4,1.42],[17.1,1.43,1.45],[17.3,1.47,1.49],[17.5,1.5,1.52],[17.7,1.54,1.56],[17.9,1.57,1.59],[18.0,1.59],[18.1,1.6],[18.2,1.62],
  [18.2,1.69],[18.25,1.68],[18.3,1.7],
  [18.5,1.55,1.45],[18.6,1.5,1.4],[18.7,1.45,1.35],[18.8,1.42,1.5],[18.9,1.38,1.46],[19.0,1.36,1.42],[19.1,1.38,1.33],[19.2,1.4,1.34],
  [19.3,1.36,1.44],[19.4,1.38,1.42],[19.5,1.4,1.46],[19.6,1.45,1.5],[19.7,1.5,1.55],[19.8,1.55,1.6],[19.9,1.58,1.62],
  [22.8,1.65],[23.0,1.62,1.68],[23.2,1.6,1.63],[23.4,1.6,1.62,1.72],[23.6,1.61,1.6],[23.8,1.6,1.62],[24.0,1.61,1.63],[24.2,1.6,1.62],
  [24.4,1.61,1.64,1.66],[24.6,1.62,1.67],[24.8,1.64,1.68],
  [25.3,1.69],[25.5,1.7,1.69],[25.7,1.69,1.7],[25.9,1.7,1.69],[26.1,1.7,1.69],[26.3,1.69,1.7],[26.5,1.7,1.69],[26.7,1.69],[26.9,1.69]
];
var cBlue = [
  [10.05,1.17,1.15],[10.15,1.16,1.18],[10.25,1.15,1.17],[10.35,1.16],[10.45,1.18],[10.55,1.2],[10.6,1.22],
  [11.6,1.17,1.22,1.25],[11.7,1.15,1.2,1.13],[11.8,1.16,1.24,1.19],[11.9,1.15,1.21],
  [11.95,1.45,1.42],[12.05,1.48],[12.15,1.5,1.47],[12.25,1.51],[12.35,1.53,1.5],[12.45,1.54],[12.55,1.56,1.53],[12.65,1.57],[12.75,1.58],
  [13.2,1.69],[13.3,1.71],[13.4,1.73],[13.5,1.74],[13.6,1.76],[13.75,1.78],[13.9,1.85],[14.0,1.87],
  [15.9,1.32,1.34],[16.0,1.33,1.35],[16.1,1.33,1.36],[16.2,1.34,1.37],[16.3,1.35,1.37],[16.4,1.35,1.38],[16.5,1.36,1.39],[16.6,1.37,1.4],
  [16.7,1.38,1.4],[16.8,1.39,1.41],[16.9,1.39,1.42],[17.0,1.4,1.43],[17.1,1.41,1.44],[17.2,1.42,1.45],[17.3,1.43,1.46],[17.4,1.44,1.47],
  [17.5,1.45,1.48],[17.6,1.46],
  [18.6,1.5,1.55],[18.7,1.45,1.4],[18.8,1.52,1.38],[18.9,1.42,1.47],[19.0,1.4,1.36],[19.1,1.38,1.44],[19.2,1.4],[19.3,1.38,1.42],[19.4,1.36],[19.5,1.4]
];

// d) M_IG
var dRed = [
  [10.4,0.03],[10.5,0.04],[10.6,0.05],[10.7,0.045],[10.8,0.05],
  [11.7,0.02,0.03],[11.8,0.025],
  [12.0,0.052,0.058,0.064],[12.1,0.055,0.061,0.067],[12.2,0.058,0.064,0.07],[12.3,0.061,0.067,0.073],[12.4,0.064,0.07,0.076],
  [12.5,0.067,0.073,0.079],[12.6,0.07,0.076,0.082],[12.7,0.072,0.078,0.084],[12.8,0.075,0.081,0.087],[12.9,0.077,0.083,0.089],
  [13.0,0.079,0.085,0.091],[13.1,0.081,0.087,0.093],[13.2,0.084,0.09,0.096],[13.3,0.086,0.092,0.098],[13.4,0.088,0.094,0.1],
  [13.5,0.09,0.096,0.102],[13.6,0.092,0.098,0.104],[13.7,0.094,0.1,0.106],[13.8,0.097,0.103,0.109],[13.9,0.099,0.105,0.111],
  [14.0,0.101,0.107,0.113],[14.1,0.103,0.109,0.115],[14.2,0.105,0.111,0.117],[14.3,0.107,0.113,0.119],[14.4,0.109,0.115,0.121],
  [14.5,0.11,0.116,0.122],[14.6,0.111,0.117,0.124],[14.7,0.111,0.117,0.124],[14.8,0.11,0.116,0.122],[14.9,0.107,0.113,0.12],
  [15.0,0.104,0.11,0.117],[15.1,0.1,0.106,0.112],[15.2,0.097,0.103,0.109],[15.3,0.094,0.1,0.106],[15.4,0.091,0.096,0.101],
  [15.5,0.088,0.093,0.098],[15.6,0.085,0.09,0.095],[15.7,0.083,0.088,0.092],[15.8,0.081,0.086,0.09],[15.9,0.08,0.084,0.088],[16.0,0.078,0.082,0.086],
  [14.0,0.125],[14.3,0.13],[14.6,0.135],[15.0,0.128],
  [16.2,0.05],[16.4,0.052,0.045],[16.6,0.055],[16.8,0.053,0.058],[17.0,0.056],[17.2,0.058,0.052],[17.4,0.06],
  [17.5,0.12,0.13],[17.6,0.128],[17.7,0.13,0.135],[17.8,0.135],[17.9,0.14,0.135],[18.0,0.14],[18.1,0.145,0.15],[18.2,0.15],
  [18.3,0.155,0.16],[18.4,0.16,0.17],[18.5,0.175,0.155],
  [18.6,0.14,0.1],[18.7,0.08,0.05],[18.75,0.03],[18.8,0.19,0.06],[18.85,0.2,0.04],[18.9,0.185,0.02],[19.0,0.16,0.05],[19.1,0.12,0.07],
  [19.2,0.09,0.03],[19.3,0.06,0.04],[19.4,0.05,0.08],[19.5,0.07],[19.6,0.06,0.1],
  [19.7,0.08,0.1],[19.75,0.12],[19.8,0.14,0.11],[19.85,0.15],[19.9,0.17,0.14],[19.95,0.18],[20.0,0.19,0.17],[20.05,0.2],[20.1,0.21,0.19],
  [20.15,0.22],[20.2,0.23,0.21],[20.3,0.24,0.23],[20.4,0.245],
  [20.6,0.11],[20.65,0.105],
  [20.5,0.245,0.238],[20.7,0.246,0.239],[20.9,0.243,0.236],[21.1,0.24,0.233],[21.3,0.237,0.23],[21.5,0.234,0.227],[21.7,0.231,0.224],
  [21.9,0.227,0.22],[22.1,0.224,0.217],[22.3,0.221,0.214],[22.5,0.218,0.211],[22.7,0.215,0.208],[22.9,0.212,0.205],
  [21.0,0.19],[21.1,0.185],[22.2,0.165],[22.25,0.17],
  [22.7,0.165,0.16],[22.8,0.17,0.155],[22.9,0.16,0.15],[23.0,0.165],[23.1,0.155],
  [23.0,0.085],[23.1,0.075,0.09],[23.2,0.07,0.08],[23.3,0.065,0.085],[23.4,0.06,0.075],[23.5,0.07],[23.6,0.065,0.08],[23.7,0.07],[23.8,0.062],
  [23.5,0.115,0.125],[23.65,0.118,0.128],[23.8,0.12,0.13],[23.95,0.122,0.132],[24.1,0.125,0.135],[24.25,0.128,0.138],[24.4,0.13,0.14],
  [24.55,0.134,0.144],[24.7,0.138,0.148],[24.85,0.143,0.153],[25.0,0.148,0.158],[25.15,0.152,0.162],[25.3,0.156,0.166],[25.45,0.16,0.17],
  [25.6,0.163,0.173],[25.75,0.166,0.176],[25.9,0.168,0.178],[26.05,0.17,0.18],[26.2,0.172,0.182],[26.35,0.173,0.183],[26.5,0.174,0.184],
  [26.65,0.173,0.183],[26.8,0.172,0.182],[26.9,0.168,0.18],[27.0,0.165,0.178],[27.1,0.158,0.17],[27.2,0.15,0.16],[27.3,0.145,0.155],
  [27.4,0.14,0.15],[27.55,0.138,0.148],[27.7,0.137,0.147],[27.85,0.138,0.148],[28.0,0.14,0.15],[28.15,0.142,0.152],[28.3,0.144,0.155],
  [28.45,0.147,0.158],[28.6,0.15,0.16],[28.75,0.153,0.164],[28.9,0.156,0.167],[29.05,0.159,0.17],[29.2,0.162,0.173],[29.35,0.165,0.176],
  [29.5,0.168,0.18],[29.65,0.171,0.182],[29.8,0.174,0.185],[29.95,0.177,0.188],[30.1,0.18,0.19],[30.25,0.182,0.193],[30.4,0.185,0.196],
  [30.55,0.188,0.198],[30.7,0.19,0.2],[30.85,0.193,0.203],[31.0,0.195,0.205],[31.15,0.198,0.208],[31.3,0.2,0.21],[31.45,0.203,0.213],
  [31.6,0.205,0.215],[31.75,0.208,0.218],[31.9,0.21,0.22],[32.05,0.212,0.223],[32.2,0.214,0.225],[32.35,0.216,0.227],[32.5,0.218,0.23]
];
var dBlack = [
  [10.4,0.03],[10.6,0.05],
  [11.6,0.03,0.02],[11.7,0.035],[11.8,0.025,0.03],
  [12.0,0.035,0.03],[12.2,0.037,0.032],[12.4,0.036],[12.6,0.035,0.03],[12.8,0.036,0.033],[13.0,0.034],[13.2,0.035,0.031],[13.4,0.033],
  [13.6,0.034,0.03],[13.8,0.032],[14.0,0.033,0.028],
  [13.7,0.025],[13.9,0.02],[14.1,0.015],[14.3,0.012],[14.5,0.008],[14.7,0.005],[14.9,0.004],[15.1,0.003],[15.3,0.002],[15.5,0.001],[15.7,0.0],
  [13.9,0.085],[14.1,0.09],[14.3,0.095,0.1],[14.5,0.1],[14.7,0.105],[14.9,0.1],
  [15.0,0.08],[15.2,0.078,0.082],[15.4,0.077],[15.6,0.078,0.075],[15.8,0.076],[16.0,0.077,0.08],
  [16.0,0.04],[16.2,0.045,0.04],[16.4,0.047],[16.6,0.048,0.043],[16.8,0.05],[17.0,0.05,0.046],[17.2,0.052],[17.4,0.053,0.048],
  [17.5,0.1],[17.6,0.105],[17.7,0.108],[17.8,0.11,0.105],[17.9,0.112],[18.0,0.113],[18.1,0.115,0.11],[18.2,0.118],
  [18.3,0.11,0.09],[18.4,0.1,0.08],[18.5,0.09,0.11],[18.6,0.085,0.07],[18.7,0.1,0.06],[18.8,0.08,0.095],[18.9,0.075,0.09],[19.0,0.07,0.085],
  [19.1,0.065,0.08],[19.2,0.06,0.09],[19.3,0.07,0.085],[19.4,0.08,0.095],[19.5,0.09,0.1],[19.6,0.1,0.11],[19.7,0.11,0.12],[19.8,0.12],
  [23.0,0.045],[23.2,0.044,0.04],[23.4,0.043],[23.6,0.045,0.041],[23.8,0.042],
  [23.4,0.092],[23.6,0.094,0.09],[23.8,0.095],[24.0,0.095,0.092],[24.2,0.096],[24.4,0.097,0.094],[24.6,0.098],
  [25.3,0.128],[25.5,0.127,0.13],[25.7,0.128],[25.9,0.127,0.13],[26.1,0.128],[26.3,0.126,0.13],[26.5,0.128],[26.7,0.127],[26.9,0.128]
];
var dBlue = [
  [10.0,0.025],[10.1,0.02,0.03],[10.2,0.025],[10.3,0.02],[10.4,0.028],[10.5,0.02],
  [11.6,0.02,0.03],[11.7,0.035,0.015],[11.8,0.025,0.03],[11.9,0.02],
  [12.0,0.005],[12.2,0.004],[12.4,0.006],[12.6,0.003],[12.8,0.005],[13.0,0.003],[13.2,0.004],[13.4,0.002],[13.6,0.003],
  [16.0,0.03,0.025],[16.2,0.032,0.028],[16.4,0.033,0.027],[16.6,0.034,0.03],[16.8,0.035,0.03],[17.0,0.036,0.031],[17.2,0.037,0.032],[17.4,0.038,0.033],
  [18.7,0.02,0.03],[18.8,0.025,0.015],[18.9,0.03,0.02],[19.0,0.025],[19.1,0.02,0.03],[19.2,0.022],[19.3,0.025,0.018],[19.4,0.02]
];

var SERIF = '"Liberation Serif", "DejaVu Serif", serif';
var colors = ['#ff0000', '#000000', '#0000ff'];
var nameRich = {
  i: { fontFamily: SERIF, fontStyle: 'italic', fontSize: 14, lineHeight: 16, color: '#222' },
  s: { fontFamily: SERIF, fontSize: 9, lineHeight: 9, verticalAlign: 'bottom', color: '#222' },
  p: { fontFamily: SERIF, fontSize: 9, lineHeight: 9, verticalAlign: 'top', color: '#222' },
  n: { fontFamily: SERIF, fontSize: 13, lineHeight: 16, color: '#222' }
};

function pts(rows) {
  var out = [];
  rows.forEach(function (r) {
    for (var k = 1; k < r.length; k++) out.push([r[0], r[k]]);
  });
  return out;
}

var panels = [
  { tag: 'a)', range: [-0.05, 3.0], major: yMajorA, minor: yMinorA, fmt: function (v) { return v.toFixed(1); },
    name: '{i|E}{s|expl}{n| [10}{p|51}{n| erg]}', data: [aRed, aBlack, aBlue] },
  { tag: 'b)', range: [8, 18], major: yMajorB, minor: yMinorB, fmt: function (v) { return String(v); },
    name: '{i|M}{s|BH}{n| [}{i|M}{s|⊙}{n|]}', data: [null, null, bBlue.concat(bBlueMid)] },
  { tag: 'c)', range: [1.05, 2.05], major: yMajorC, minor: yMinorC, fmt: function (v) { return v.toFixed(1); },
    name: '{i|M}{s|NS}{n| [}{i|M}{s|⊙}{n|]}', data: [cRed, cBlack, cBlue] },
  { tag: 'd)', range: [0, 0.38], major: yMajorD, minor: yMinorD, fmt: function (v) { return v.toFixed(1); },
    name: '{i|M}{s|IG}{n| [}{i|M}{s|⊙}{n|]}', data: [dRed, dBlack, dBlue] }
];
var tops = [13, 110, 206, 302];
var heights = [97, 96, 96, 97];

function axis(g, pos, range, ticks, len, showLine, labels, fmt) {
  return {
    type: 'value', gridIndex: g, position: pos, min: range[0], max: range[1],
    axisLine: { show: showLine, onZero: false, lineStyle: { color: '#000', width: 1 } },
    axisTick: { show: true, inside: true, length: len, customValues: ticks, lineStyle: { color: '#000', width: 1 } },
    axisLabel: { show: !!labels, customValues: labels || [], formatter: fmt, margin: 6, color: '#222', fontFamily: SERIF, fontSize: 11 },
    splitLine: { show: false }
  };
}

var grid = [], xAxis = [], yAxis = [], series = [], title = [];
panels.forEach(function (p, g) {
  grid.push({ left: 60, right: 12, top: tops[g], height: heights[g] });
  var last = g === 3;
  var xr = [10, 32.6];
  var xb = axis(g, 'bottom', xr, xMajor, 5, true, last ? xMajor : null, function (v) { return String(v); });
  if (last) {
    xb.name = '{i|M}{s|ZAMS}{n| [}{i|M}{s|⊙}{n|]}';
    xb.nameLocation = 'middle';
    xb.nameGap = 22;
    xb.nameTextStyle = { fontFamily: SERIF, fontSize: 13, color: '#222', rich: nameRich };
  }
  xAxis.push(xb,
    axis(g, 'bottom', xr, xMinor, 2.5, false, null),
    axis(g, 'top', xr, xMajor, 5, true, null),
    axis(g, 'top', xr, xMinor, 2.5, false, null));
  var yl = axis(g, 'left', p.range, p.major, 5, true, p.major, p.fmt);
  yl.name = p.name;
  yl.nameLocation = 'middle';
  yl.nameGap = 29;
  yl.nameTextStyle = { fontFamily: SERIF, fontSize: 13, color: '#222', rich: nameRich };
  yAxis.push(yl,
    axis(g, 'left', p.range, p.minor, 2.5, false, null),
    axis(g, 'right', p.range, p.major, 5, true, null),
    axis(g, 'right', p.range, p.minor, 2.5, false, null));
  p.data.forEach(function (rows, k) {
    if (!rows) return;
    series.push({
      type: 'scatter', name: alphaTurb[k], xAxisIndex: 4 * g, yAxisIndex: 4 * g,
      symbol: 'circle', symbolSize: 2.3, itemStyle: { color: colors[k] },
      data: pts(rows), silent: true, z: 2 + k
    });
  });
  title.push({ text: p.tag, left: 74, top: tops[g] + 6,
    textStyle: { fontFamily: '"DejaVu Sans", sans-serif', fontSize: 15, fontWeight: 'normal', color: '#000' } });
});

var chart = echarts.init(document.getElementById('chart'), null, { renderer: 'canvas' });
chart.setOption({
  animation: false,
  backgroundColor: '#fff',
  title: title,
  grid: grid,
  xAxis: xAxis,
  yAxis: yAxis,
  legend: {
    data: alphaTurb, orient: 'vertical', right: 17, top: 18,
    backgroundColor: '#fff', borderColor: '#000', borderWidth: 1, borderRadius: 0,
    padding: [3, 5, 3, 12], itemGap: 1, itemWidth: 5, itemHeight: 5, icon: 'circle',
    selectedMode: false, z: 10,
    formatter: function (name) { return '{a|α}{s|turb}{e| = ' + name + '}'; },
    textStyle: {
      fontFamily: SERIF, fontSize: 13, color: '#222', padding: [0, 0, 0, 8],
      rich: {
        a: { fontFamily: SERIF, fontStyle: 'italic', fontSize: 13, lineHeight: 13, color: '#222' },
        s: { fontFamily: SERIF, fontSize: 8, lineHeight: 8, verticalAlign: 'bottom', color: '#222' },
        e: { fontFamily: SERIF, fontSize: 13, lineHeight: 13, color: '#222' }
      }
    }
  },
  series: series
});
</script>
</body>
</html>
